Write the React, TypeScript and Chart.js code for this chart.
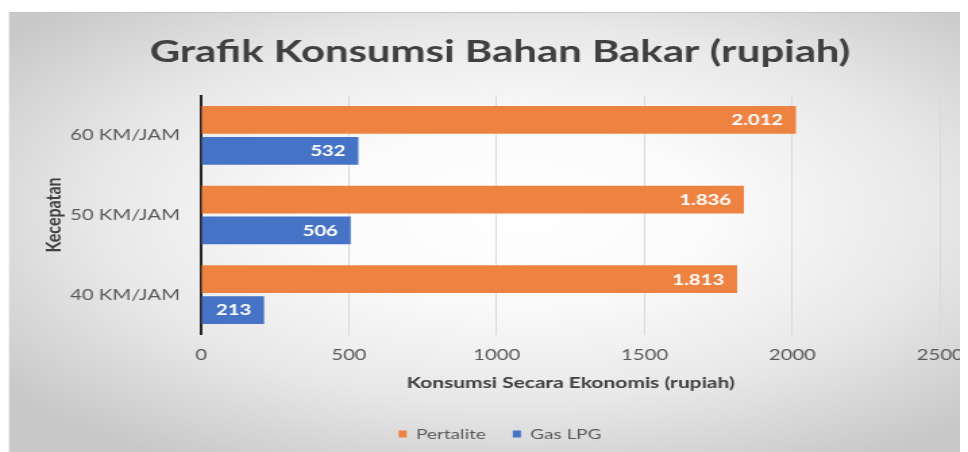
import React, { useEffect, useRef } from 'react';
import { Chart, registerables } from 'chart.js';

Chart.register(...registerables);

// ---- data ----
const categories = ['60 KM/JAM', '50 KM/JAM', '40 KM/JAM'];
const seriesNames = ['Pertalite', 'Gas LPG'];
const pertalite = [2012, 1836, 1813];
const gasLpg = [532, 506, 213];
const xTicks = [0, 500, 1000, 1500, 2000, 2500];
const titleText = 'Grafik Konsumsi Bahan Bakar (rupiah)';
const xTitle = 'Konsumsi Secara Ekonomis (rupiah)';
const yTitle = 'Kecepatan';

// ---- styling ----
const FONT = 'Lato, "Open Sans", sans-serif';
const SX = 1.35; // horizontal stretch of the picture
const CSS_W = 960;
const CSS_H = 444;
const BW = Math.round(CSS_W / SX);
const ORANGE = '#EE8240';
const BLUE = '#4673C6';

const fmt = (v: number) => String(v).replace(/\B(?=(\d{3})+(?!\d))/g, '.');

const background = {
  id: 'bgGradient',
  beforeDraw(chart: any) {
    const { ctx, width, height } = chart;
    ctx.save();
    const top = 4;
    const left = 0.75;
    const cx = width * 0.53;
    const cy = 205;
    const sx = 1.65;
    ctx.translate(cx, cy);
    ctx.scale(sx, 1);
    const g = ctx.createRadialGradient(0, 0, 0, 0, 0, 290);
    g.addColorStop(0, '#ffffff');
    g.addColorStop(0.3, '#fbfbfb');
    g.addColorStop(0.65, '#e8e8e8');
    g.addColorStop(1, '#c8c8c8');
    ctx.fillStyle = g;
    ctx.fillRect((left - cx) / sx, top - cy, (width - left) / sx, height - top);
    ctx.restore();
    ctx.save();
    ctx.strokeStyle = '#c4c4c4';
    ctx.lineWidth = 1;
    ctx.beginPath();
    ctx.moveTo(left, top + 0.5);
    ctx.lineTo(width, top + 0.5);
    ctx.stroke();
    ctx.restore();
  },
};

const valueLabels = {
  id: 'valueLabels',
  afterDatasetsDraw(chart: any) {
    const ctx = chart.ctx;
    ctx.save();
    ctx.font = `bold 15px ${FONT}`;
    ctx.fillStyle = '#ffffff';
    ctx.textAlign = 'right';
    ctx.textBaseline = 'middle';
    chart.data.datasets.forEach((ds: any, di: number) => {
      const meta = chart.getDatasetMeta(di);
      meta.data.forEach((bar: any, i: number) => {
        ctx.fillText(fmt(ds.data[i]), bar.x - 9.5, bar.y + 0.5);
      });
    });
    ctx.restore();
  },
};

export default function App() {
  const ref = useRef<HTMLCanvasElement | null>(null);

  useEffect(() => {
    if (!ref.current) return;
    const chart = new Chart(ref.current, {
      type: 'bar',
      data: {
        labels: categories,
        datasets: [
          {
            label: seriesNames[0],
            data: pertalite,
            backgroundColor: ORANGE,
            borderWidth: 0,
            categoryPercentage: 0.775,
            barPercentage: 0.9,
          },
          {
            label: seriesNames[1],
            data: gasLpg,
            backgroundColor: BLUE,
            borderWidth: 0,
            categoryPercentage: 0.775,
            barPercentage: 0.9,
          },
        ],
      },
      options: {
        indexAxis: 'y',
        responsive: false,
        devicePixelRatio: 1,
        animation: false,
        events: [],
        layout: { padding: { left: 38.4, right: 20.6, top: 0, bottom: 1 } },
        plugins: {
          title: {
            display: true,
            text: titleText,
            color: '#404040',
            font: { family: FONT, size: 31, weight: 'bold', lineHeight: 1.2 },
            padding: { top: 25.4, bottom: 24.9 },
          },
          legend: {
            position: 'bottom',
            labels: {
              boxWidth: 6,
              boxHeight: 7,
              padding: 20,
              color: '#595959',
              font: { family: FONT, size: 14 },
            },
          },
          tooltip: { enabled: false },
        },
        scales: {
          x: {
            type: 'linear',
            min: 0,
            max: 2500,
            afterBuildTicks: (s: any) => {
              s.ticks = xTicks.map((v) => ({ value: v }));
            },
            ticks: {
              padding: 3,
              color: '#595959',
              font: { family: FONT, size: 15, lineHeight: 35 / 15 },
              callback: (v: any) => String(v),
            },
            grid: { color: '#d9d9d9', lineWidth: 1, drawTicks: false },
            border: { display: false },
            title: {
              display: true,
              text: xTitle,
              color: '#404040',
              font: { family: FONT, size: 15.5, weight: 'bold', lineHeight: 1.2 },
              padding: { top: -1.8, bottom: 14.7 },
            },
          },
          y: {
            ticks: {
              padding: 15.6,
              color: '#595959',
              font: { family: FONT, size: 15, lineHeight: 1.2 },
            },
            grid: { display: false, drawTicks: false },
            border: { display: true, color: '#262626', width: 2 },
            title: {
              display: true,
              text: yTitle,
              color: '#404040',
              font: { family: FONT, size: 16, weight: 'bold', lineHeight: 1.2 },
              padding: { top: -13.9, bottom: 0 },
            },
            afterFit: (s: any) => {
              s.width = 104.6;
            },
          },
        },
      } as any,
      plugins: [background, valueLabels],
    });
    return () => chart.destroy();
  }, []);

  return (
    <canvas
      ref={ref}
      width={BW}
      height={CSS_H}
      style={{ width: `${CSS_W}px`, height: `${CSS_H}px`, display: 'block' }}
    />
  );
}
